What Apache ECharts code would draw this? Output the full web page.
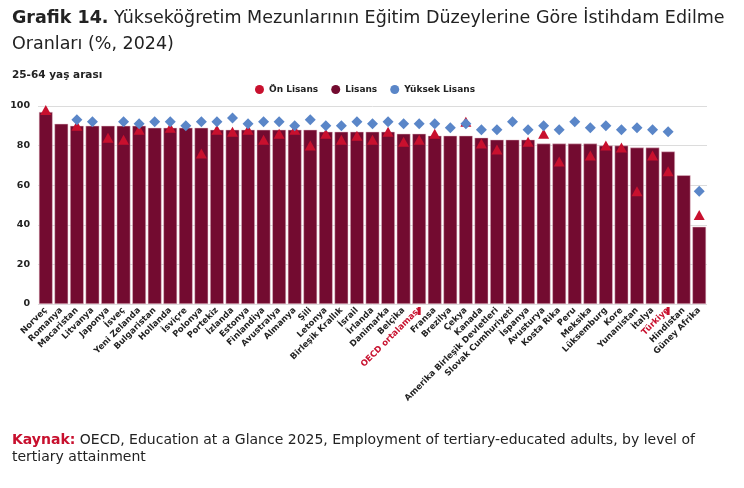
<!DOCTYPE html>
<html>
<head>
<meta charset="utf-8">
<script src="https://cdn.jsdelivr.net/npm/echarts@6/dist/echarts.min.js"></script>
<style>
  html, body { margin: 0; padding: 0; background: #fff; }
  #chart { width: 744px; height: 488px; }
</style>
</head>
<body>
<div id="chart"></div>
<script>
// ülkeler (grafikteki sırayla)
var categories = [
	'Norveç', 'Romanya', 'Macaristan', 'Litvanya', 'Japonya', 'İsveç', 'Yeni Zelanda',
	'Bulgaristan', 'Hollanda', 'İsviçre', 'Polonya', 'Portekiz', 'İzlanda', 'Estonya',
	'Finlandiya', 'Avustralya', 'Almanya', 'Şili', 'Letonya', 'Birleşik Krallık', 'İsrail',
	'İrlanda', 'Danimarka', 'Belçika', 'OECD ortalaması', 'Fransa', 'Brezilya', 'Çekya',
	'Kanada', 'Amerika Birleşik Devletleri', 'Slovak Cumhuriyeti', 'İspanya', 'Avusturya',
	'Kosta Rika', 'Peru', 'Meksika', 'Lüksemburg', 'Kore', 'Yunanistan', 'İtalya',
	'Türkiye', 'Hindistan', 'Güney Afrika'
];

var lisans = [
	97, 91, 90, 90, 90, 90, 90,
	89, 89, 89, 89, 88, 88, 88,
	88, 88, 88, 88, 87, 87, 87,
	87, 87, 86, 86, 85, 85, 85,
	84, 83, 83, 83, 81,
	81, 81, 81, 80, 80, 79, 79,
	77, 65, 39
];

var onLisans = [
	98, null, 90, null, 84, 83, 88,
	null, 89, null, 76, 88, 87, 88,
	83, 86, 88, 80, 86, 83, 85,
	83, 87, 82, 83, 86, null, 92,
	81, 78, null, 82, 86,
	72, null, 75, 80, 79, 57, 75,
	67, null, 45
];

var yuksekLisans = [
	null, null, 93, 92, null, 92, 91,
	92, 92, 90, 92, 92, 94, 91,
	92, 92, 90, 93, 90, 90, 92,
	91, 92, 91, 91, 91, 89, 91,
	88, 88, 92, 88, 90,
	88, 92, 89, 90, 88, 89, 88,
	87, null, 57
];

var yTicks = [0, 20, 40, 60, 80, 100];
var highlighted = ['OECD ortalaması', 'Türkiye'];

var FONT = 'DejaVu Sans';
var RED = '#c8102e';
var BORDO = '#730b30';
var BLUE = '#5a86c8';

var myChart = echarts.init(document.getElementById('chart'));

var markData = [];
for (var i = 0; i < categories.length; i++) {
	markData[i] = highlighted.indexOf(categories[i]) >= 0 ? 0 : null;
}

var chartOption = {
	animation: false,
	textStyle: { fontFamily: FONT },
	title: [
		{
			left: 12, top: 5, padding: 0,
			text: '{b|Grafik 14.} Yükseköğretim Mezunlarının Eğitim Düzeylerine Göre İstihdam Edilme\nOranları (%, 2024)',
			textStyle: {
				fontFamily: FONT, fontSize: 17.5, fontWeight: 'normal', color: '#222',
				lineHeight: 26,
				rich: {
					b: { fontFamily: FONT, fontSize: 17.5, fontWeight: 'bold', color: '#222', lineHeight: 26 }
				}
			}
		},
		{
			left: 12, top: 70, padding: 0,
			text: '25-64 yaş arası',
			textStyle: { fontFamily: FONT, fontSize: 10.5, fontWeight: 'bold', color: '#222' }
		},
		{
			left: 12, top: 432, padding: 0,
			text: '{r|Kaynak:} OECD, Education at a Glance 2025, Employment of tertiary-educated adults, by level of\ntertiary attainment',
			textStyle: {
				fontFamily: FONT, fontSize: 14, fontWeight: 'normal', color: '#222',
				lineHeight: 17,
				rich: {
					r: { fontFamily: FONT, fontSize: 14, fontWeight: 'bold', color: RED, lineHeight: 17 }
				}
			}
		}
	],
	legend: {
		data: ['Ön Lisans', 'Lisans', 'Yüksek Lisans'],
		left: 250, top: 80,
		icon: 'circle',
		itemWidth: 9, itemHeight: 9, itemGap: 13,
		itemStyle: { borderWidth: 0 },
		textStyle: { fontFamily: FONT, fontSize: 9, fontWeight: 'bold', color: '#222' }
	},
	grid: { left: 38, right: 37, top: 106, bottom: 184 },
	xAxis: {
		type: 'category',
		data: categories,
		axisLine: { show: false },
		axisTick: { show: false },
		axisLabel: {
			interval: 0,
			rotate: 45,
			margin: 5,
			fontFamily: FONT,
			fontSize: 8.5,
			fontWeight: 'bold',
			color: '#222',
			formatter: function (v) {
				return highlighted.indexOf(v) >= 0 ? '{r|' + v + '}' : v;
			},
			rich: {
				r: { fontFamily: FONT, fontSize: 8.5, fontWeight: 'bold', color: RED }
			}
		}
	},
	yAxis: {
		type: 'value',
		min: yTicks[0], max: yTicks[yTicks.length - 1], interval: 20,
		axisLine: { show: false },
		axisTick: { show: false },
		axisLabel: { fontFamily: FONT, fontSize: 9.5, fontWeight: 'bold', color: '#222', margin: 8 },
		splitLine: { lineStyle: { color: '#dcdcdc', width: 1 } }
	},
	series: [
		{
			name: 'Lisans',
			type: 'bar',
			data: lisans,
			barCategoryGap: '12%',
			itemStyle: { color: BORDO, borderColor: '#e8c4cf', borderWidth: 0.5 },
			z: 2
		},
		{
			name: 'Ön Lisans',
			type: 'scatter',
			data: onLisans,
			symbol: 'triangle',
			symbolSize: [11, 10],
			itemStyle: { color: RED, opacity: 1 },
			z: 3
		},
		{
			name: 'Yüksek Lisans',
			type: 'scatter',
			data: yuksekLisans,
			symbol: 'diamond',
			symbolSize: [11, 11],
			itemStyle: { color: BLUE, opacity: 1 },
			z: 4
		},
		{
			name: 'vurgu',
			type: 'scatter',
			data: markData,
			symbol: 'rect',
			symbolSize: [3, 8],
			symbolOffset: [0, 7],
			clip: false,
			itemStyle: { color: RED, opacity: 1 },
			silent: true,
			z: 5
		}
	]
};

myChart.setOption(chartOption);
</script>
</body>
</html>
